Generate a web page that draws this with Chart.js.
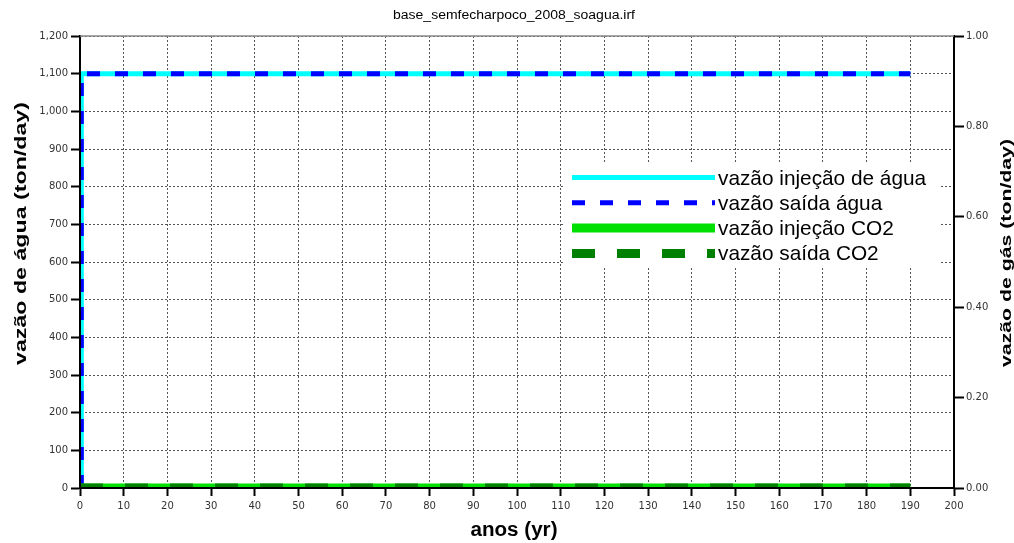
<!DOCTYPE html>
<html>
<head>
<meta charset="utf-8">
<script src="https://cdn.jsdelivr.net/npm/chart.js@4.4.1/dist/chart.umd.min.js"></script>
<style>
  html, body { margin: 0; padding: 0; background: #fff; }
  canvas { display: block; }
</style>
</head>
<body>
<canvas id="grafico" width="1014" height="543"></canvas>
<script>
// Textos do gráfico
const tituloGrafico = 'base_semfecharpoco_2008_soagua.irf';
const tituloEixoX = 'anos (yr)';
const tituloEixoAgua = 'vazão de água (ton/day)';
const tituloEixoGas = 'vazão de gás (ton/day)';
const nomesSeries = ['vazão injeção de água', 'vazão saída água', 'vazão injeção CO2', 'vazão saída CO2'];

// Séries de água (eixo esquerdo, ton/day)
const anosAgua = [0.3, 0.3, 190];
const injecaoAgua = [0, 1100, 1100];
const saidaAgua = [0, 1100, 1100];

// Séries de CO2 (eixo direito, ton/day)
const anosCO2 = [0, 190];
const injecaoCO2 = [0, 0];
const saidaCO2 = [0, 0];

const pontos = (xs, ys) => xs.map((x, i) => ({ x: x, y: ys[i] }));

const corTick = '#333';
const fonteTick = { family: 'DejaVu Sans', size: 10 };

const datasets = [
  { label: nomesSeries[0], data: pontos(anosAgua, injecaoAgua), yAxisID: 'y',
    borderColor: '#00ffff', borderWidth: 5, order: 4 },
  { label: nomesSeries[1], data: pontos(anosAgua, saidaAgua), yAxisID: 'y',
    borderColor: '#0000ff', borderWidth: 5, borderDash: [13, 15], order: 3 },
  { label: nomesSeries[2], data: pontos(anosCO2, injecaoCO2), yAxisID: 'y2',
    borderColor: '#00e000', borderWidth: 9, order: 2 },
  { label: nomesSeries[3], data: pontos(anosCO2, saidaCO2), yAxisID: 'y2',
    borderColor: '#008000', borderWidth: 9, borderDash: [23, 22], order: 1 }
].map(d => Object.assign({ pointRadius: 0, fill: false, tension: 0, clip: 0,
  borderCapStyle: 'butt', borderJoinStyle: 'miter' }, d));

// Texto com largura ajustada, linha de base alfabética
function textoAjustado(ctx, texto, x, y, fonte, largura, rot, alinhamento) {
  ctx.save();
  ctx.font = fonte;
  const w = ctx.measureText(texto).width;
  ctx.translate(x, y);
  ctx.rotate(rot || 0);
  ctx.scale(largura / w, 1);
  ctx.textAlign = alinhamento || 'center';
  ctx.textBaseline = 'alphabetic';
  ctx.fillStyle = '#000';
  ctx.fillText(texto, 0, 0);
  ctx.restore();
}

const decoracao = {
  id: 'decoracao',
  beforeDraw(chart) {
    const ctx = chart.ctx;
    ctx.save();
    ctx.fillStyle = '#fff';
    ctx.fillRect(0, 0, chart.width, chart.height);
    ctx.restore();
  },
  afterDraw(chart) {
    const ctx = chart.ctx;
    const a = chart.chartArea;

    // borda superior da área do gráfico
    ctx.save();
    ctx.strokeStyle = '#888';
    ctx.lineWidth = 1.5;
    ctx.beginPath();
    ctx.moveTo(a.left, a.top);
    ctx.lineTo(a.right, a.top);
    ctx.stroke();
    ctx.restore();

    // títulos
    textoAjustado(ctx, tituloGrafico, 514, 19, '12px "Liberation Sans"', 242, 0);
    textoAjustado(ctx, tituloEixoX, 514, 535.5, 'bold 20px "Liberation Sans"', 87, 0);
    textoAjustado(ctx, tituloEixoAgua, 26, 233.5, 'bold 17px "Liberation Sans"', 263, -Math.PI / 2);
    textoAjustado(ctx, tituloEixoGas, 1011, 253, 'bold 14px "Liberation Sans"', 228, -Math.PI / 2);

    // legenda sobre fundo branco
    ctx.save();
    ctx.fillStyle = '#fff';
    ctx.fillRect(565, 163, 375, 105);
    const x0 = 572, x1 = 715;
    chart.data.datasets.forEach((d, i) => {
      const yl = 177.5 + 25.3 * i;
      ctx.save();
      ctx.strokeStyle = d.borderColor;
      ctx.lineWidth = d.borderWidth;
      ctx.lineCap = 'butt';
      ctx.setLineDash(d.borderDash || []);
      ctx.beginPath();
      ctx.moveTo(x0, yl);
      ctx.lineTo(x1, yl);
      ctx.stroke();
      ctx.restore();
      ctx.font = '20.8px "Liberation Sans"';
      ctx.fillStyle = '#000';
      ctx.textAlign = 'left';
      ctx.textBaseline = 'alphabetic';
      ctx.fillText(d.label, 718, yl + 7);
    });
    ctx.restore();
  }
};

new Chart(document.getElementById('grafico'), {
  type: 'line',
  data: { datasets: datasets },
  options: {
    responsive: false,
    animation: false,
    devicePixelRatio: 1,
    layout: { padding: { top: 36, left: 0, right: 0, bottom: 0 } },
    plugins: { legend: { display: false }, title: { display: false }, tooltip: { enabled: false } },
    scales: {
      x: {
        type: 'linear', min: 0, max: 200,
        ticks: { stepSize: 10, color: corTick, font: fonteTick, padding: 4, maxRotation: 0, autoSkip: false },
        grid: { color: '#555', lineWidth: 1, tickLength: 8, tickWidth: 2, tickColor: '#000', tickBorderDash: [] },
        border: { color: '#000', width: 2, dash: [2, 2], z: 1 },
        afterFit(s) { s.height = 55; }
      },
      y: {
        position: 'left', min: 0, max: 1200,
        ticks: { stepSize: 100, color: corTick, font: fonteTick, padding: 3,
          callback: v => v.toLocaleString('en-US') },
        grid: { color: '#555', lineWidth: 1, tickLength: 9, tickWidth: 2, tickColor: '#000', tickBorderDash: [] },
        border: { color: '#000', width: 2, dash: [2, 2], z: 1 },
        afterFit(s) { s.width = 80; }
      },
      y2: {
        position: 'right', min: 0, max: 1,
        ticks: { stepSize: 0.2, color: corTick, font: fonteTick, padding: 2,
          callback: v => v.toFixed(2) },
        grid: { drawOnChartArea: false, tickLength: 10, tickWidth: 2, tickColor: '#000', tickBorderDash: [] },
        border: { color: '#000', width: 2, z: 1 },
        afterFit(s) { s.width = 60; }
      }
    }
  },
  plugins: [decoracao]
});
</script>
</body>
</html>
